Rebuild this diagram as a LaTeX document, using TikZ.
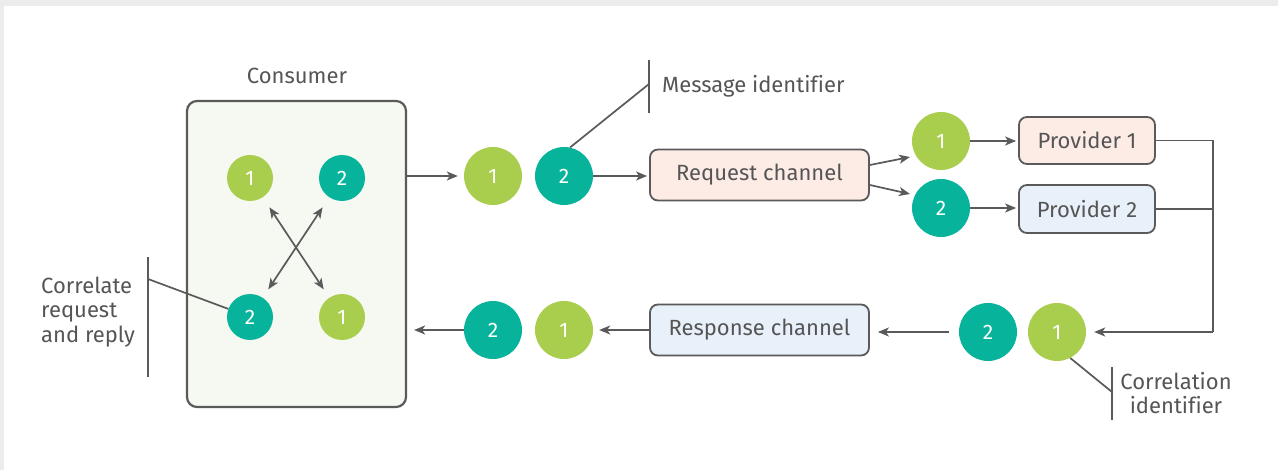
\documentclass[tikz,border=0pt]{standalone}
\usepackage{fontspec}
\setmainfont{Fira Sans}[Ligatures=NoCommon]
\usetikzlibrary{arrows.meta,calc}

\definecolor{lime}{HTML}{A9CE4E}
\definecolor{teal}{HTML}{07B49B}
\definecolor{edge}{HTML}{5A5A5A}
\definecolor{ink}{HTML}{555555}
\definecolor{consumerbg}{HTML}{F6F9F1}
\definecolor{pinkbg}{HTML}{FDECE6}
\definecolor{bluebg}{HTML}{E8F1FA}
\definecolor{frame}{HTML}{ECECEC}

\tikzset{
  txt/.style={text=ink, font=\fontsize{22}{24.5}\selectfont, inner sep=0pt},
  msg/.style={circle, fill=#1, text=white, minimum size=58pt, inner sep=0pt,
              font=\fontsize{21}{22}\selectfont},
  smallmsg/.style={msg=#1, minimum size=46pt},
  chan/.style={draw=edge, line width=1.8pt, rounded corners=8pt, fill=#1,
               minimum width=219pt, minimum height=51pt, text=ink,
               font=\fontsize{22}{24}\selectfont},
  link/.style={draw=edge, line width=1.7pt},
  flow/.style={link, -{Stealth[length=11pt,width=9pt,inset=3pt]}},
  both/.style={link, {Stealth[length=11pt,width=9pt,inset=3pt]}-{Stealth[length=11pt,width=9pt,inset=3pt]}},
}

\begin{document}
\begin{tikzpicture}[x=1pt, y=-1pt]
  % page frame
  \fill[frame] (0,0) rectangle (1278,470);
  \fill[white] (4,6) rectangle (1278,470);
  \useasboundingbox (0,0) rectangle (1278,470);

  % consumer
  \node[draw=edge, line width=2.2pt, rounded corners=10pt, fill=consumerbg,
        minimum width=219pt, minimum height=306pt] (consumer) at (296.5,254) {};
  \node[txt] (consumerlbl) at (297,76) {Consumer};
  \node[smallmsg=lime] (ca1) at (250,178) {1};
  \node[smallmsg=teal] (ca2) at (342,178) {2};
  \node[smallmsg=teal] (cb2) at (250,317) {2};
  \node[smallmsg=lime] (cb1) at (342,317) {1};
  \draw[both, shorten <=12pt, shorten >=10pt] (ca1) -- (cb1);
  \draw[both, shorten <=12pt, shorten >=10pt] (ca2) -- (cb2);

  % request path
  \node[msg=lime] (m1) at (493,176) {1};
  \node[msg=teal] (m2) at (564,176) {2};
  \node[chan=pinkbg] (req) at (759.5,175) {Request channel};
  \draw[flow, shorten >=6pt] (consumer.east |- m1) -- (m1);
  \draw[flow, shorten >=2pt] (m2) -- (req.west |- m2);

  % message identifier callout
  \coordinate (mbar) at (649,84);
  \draw[link] (649,60) -- (649,113);
  \draw[link] (m2.78) -- (mbar);
  \node[txt, anchor=west] (msgid) at (662,86) {Message identifier};

  % providers
  \node[msg=lime] (p1) at (941,141) {1};
  \node[msg=teal] (p2) at (941,208) {2};
  \draw[flow] ([shift={(0,-10)}]req.east) -- ([shift={(-31,16)}]p1.center);
  \draw[flow] ([shift={(0,10)}]req.east) -- ([shift={(-31,-14)}]p2.center);
  \node[chan=pinkbg, minimum width=136pt, minimum height=47pt] (prov1) at (1087,140.5) {Provider 1};
  \node[chan=bluebg, minimum width=136pt, minimum height=48pt] (prov2) at (1087,209) {Provider 2};
  \draw[flow, shorten >=2pt] (p1) -- (prov1.west |- p1);
  \draw[flow, shorten >=2pt] (p2) -- (prov2.west |- p2);

  % reply path
  \node[msg=lime] (r1) at (1057,332) {1};
  \node[msg=teal] (r2) at (988,332) {2};
  \coordinate (join) at (1213,332);
  \draw[link] (prov1.east) -| (join);
  \draw[link] (prov2.east) -- (prov2.east -| join);
  \draw[flow, shorten >=8pt] (join) -- (r1);
  \node[chan=bluebg] (resp) at (759.5,330) {Response channel};
  \draw[flow, shorten <=10pt, shorten >=8pt] (r2) -- (resp.east |- r2);

  \node[msg=lime] (s1) at (564,330) {1};
  \node[msg=teal] (s2) at (493,330) {2};
  \draw[flow, shorten >=6pt] (resp.west |- s1) -- (s1);
  \draw[flow, shorten >=7pt] (s2) -- (consumer.east |- s2);

  % correlation identifier callout
  \coordinate (cbar) at (1112,392);
  \draw[link] (1112,367) -- (1112,420);
  \draw[link] (r1.-63) -- (cbar);
  \node[txt, align=center] (corrid) at (1176,393) {Correlation\\identifier};

  % correlate request and reply callout
  \coordinate (lbar) at (148,279);
  \draw[link] (148,257) -- (148,377);
  \draw[link] (lbar) -- (cb2);
  \node[txt, align=left, anchor=west] (corrlbl) at (41,312) {Correlate\\request\\and reply};
\end{tikzpicture}
\end{document}
